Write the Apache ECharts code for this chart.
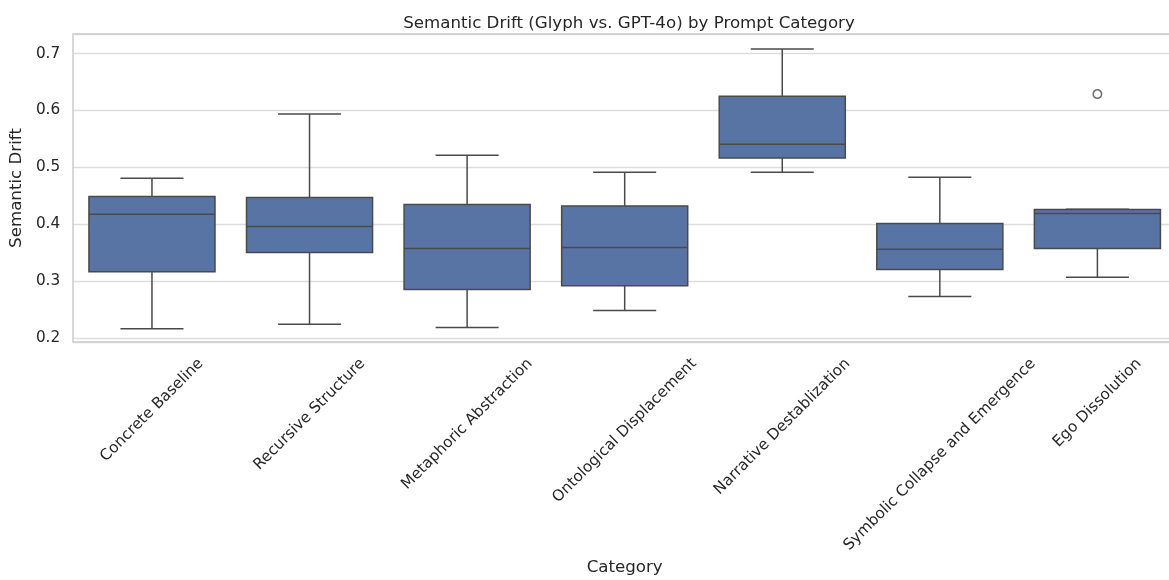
<!DOCTYPE html>
<html>
<head>
<meta charset="utf-8">
<script src="https://cdn.jsdelivr.net/npm/echarts@6/dist/echarts.min.js"></script>
<style>
html,body{margin:0;padding:0;background:#fff;}
#c{width:1169px;height:580px;}
</style>
</head>
<body>
<div id="c"></div>
<script>
// ---- data ----
const categories = ["Concrete Baseline","Recursive Structure","Metaphoric Abstraction","Ontological Displacement","Narrative Destablization","Symbolic Collapse and Emergence","Ego Dissolution"];
const whiskerLow = [0.2165, 0.2241, 0.2183, 0.2482, 0.4914, 0.2728, 0.3067];
const q1Values   = [0.3167, 0.3502, 0.2851, 0.2921, 0.5165, 0.3203, 0.3572];
const medians    = [0.4175, 0.3959, 0.3572, 0.3590, 0.5406, 0.3560, 0.4187];
const q3Values   = [0.4486, 0.4469, 0.4346, 0.4321, 0.6250, 0.4012, 0.4258];
const whiskerHigh= [0.4808, 0.5939, 0.5213, 0.4914, 0.7082, 0.4826, 0.4263];
const outlierCats = ["Ego Dissolution"];
const outlierVals = [0.6288];
const yTicks = [0.2, 0.3, 0.4, 0.5, 0.6, 0.7];

const FONT = '"DejaVu Sans", "Liberation Sans", sans-serif';
const TEXT = '#262626';
const LINE = '#4a4a4a';
const FILL = '#5874a4';
const SPINE = '#cccccc';
const FS_TICK = 15.28;
const FS_LABEL = 16.67;

const boxData = categories.map((c, i) => [i, whiskerLow[i], q1Values[i], medians[i], q3Values[i], whiskerHigh[i]]);
const outlierData = outlierCats.map((c, i) => [categories.indexOf(c), outlierVals[i]]);

// the reference figure is cropped on the right: the axes run a little past the picture edge
const X_MIN = -0.5, X_MAX = categories.length - 0.5 - 0.0456;

const chart = echarts.init(document.getElementById('c'), null, {renderer: 'canvas'});

function renderBox(params, api) {
  const idx = api.value(0);
  const vmin = api.value(1), vq1 = api.value(2), vmed = api.value(3), vq3 = api.value(4), vmax = api.value(5);
  const band = api.size([1, 0])[0];
  const bw = band * 0.8;
  const cap = bw / 2;
  const pMin = api.coord([idx, vmin]);
  const pQ1 = api.coord([idx, vq1]);
  const pMed = api.coord([idx, vmed]);
  const pQ3 = api.coord([idx, vq3]);
  const pMax = api.coord([idx, vmax]);
  const cx = pMed[0];
  const ls = {stroke: LINE, lineWidth: 1.5};
  return {
    type: 'group',
    children: [
      {type: 'line', shape: {x1: cx, y1: pQ3[1], x2: cx, y2: pMax[1]}, style: ls},
      {type: 'line', shape: {x1: cx, y1: pQ1[1], x2: cx, y2: pMin[1]}, style: ls},
      {type: 'line', shape: {x1: cx - cap/2, y1: pMax[1], x2: cx + cap/2, y2: pMax[1]}, style: ls},
      {type: 'line', shape: {x1: cx - cap/2, y1: pMin[1], x2: cx + cap/2, y2: pMin[1]}, style: ls},
      {type: 'rect', shape: {x: cx - bw/2, y: pQ3[1], width: bw, height: pQ1[1] - pQ3[1]}, style: {fill: FILL, stroke: LINE, lineWidth: 1.5}},
      {type: 'line', shape: {x1: cx - bw/2, y1: pMed[1], x2: cx + bw/2, y2: pMed[1]}, style: ls}
    ]
  };
}

const option = {
  backgroundColor: '#ffffff',
  animation: false,
  title: {
    text: 'Semantic Drift (Glyph vs. GPT-4o) by Prompt Category',
    left: 624, top: 10, textAlign: 'center',
    textStyle: {fontFamily: FONT, fontSize: FS_LABEL, fontWeight: 'normal', color: TEXT}
  },
  grid: {left: 71.6, right: 0, top: 34, bottom: 238, show: false, containLabel: false},
  xAxis: [
    {
      type: 'value', min: X_MIN, max: X_MAX, position: 'bottom',
      axisLine: {show: true, onZero: false, lineStyle: {color: SPINE, width: 1.5}},
      axisTick: {show: false}, axisLabel: {show: false}, splitLine: {show: false}
    },
    {
      type: 'value', min: X_MIN, max: X_MAX, position: 'top',
      axisLine: {show: true, onZero: false, lineStyle: {color: SPINE, width: 1.5}},
      axisTick: {show: false}, axisLabel: {show: false}, splitLine: {show: false}
    }
  ],
  yAxis: {
    type: 'value', min: 0.193, max: 0.7345,
    name: 'Semantic Drift', nameLocation: 'middle', nameGap: 46,
    nameTextStyle: {fontFamily: FONT, fontSize: FS_LABEL, color: TEXT},
    axisLine: {show: true, onZero: false, lineStyle: {color: SPINE, width: 1.5}}, axisTick: {show: false},
    axisLabel: {
      margin: 13, fontFamily: FONT, fontSize: FS_TICK, color: TEXT,
      formatter: function (v) {
        for (const t of yTicks) { if (Math.abs(v - t) < 1e-6) return t.toFixed(1); }
        return '';
      }
    },
    splitLine: {show: true, lineStyle: {color: '#dddddd', width: 1.3}}
  },
  series: [
    {type: 'custom', renderItem: renderBox, data: boxData, encode: {x: 0, y: [1, 2, 3, 4, 5]}, z: 3},
    {type: 'scatter', data: outlierData, symbol: 'circle', symbolSize: 8.5,
     itemStyle: {color: 'rgba(0,0,0,0)', borderColor: LINE, borderWidth: 1.5}, z: 4}
  ]
};
chart.setOption(option);

// rotated x tick labels, centred under each tick like matplotlib (rotation=45, ha='center')
const cv = document.createElement('canvas').getContext('2d');
cv.font = FS_TICK + 'px ' + FONT;
const labelTop = 355;
const graphics = categories.map(function (c, i) {
  const L = cv.measureText(c).width;
  const H = FS_TICK * 1.164;
  const px = chart.convertToPixel({xAxisIndex: 0}, i);
  const cy = labelTop + 0.7071 * (L + H) / 2;
  return {
    type: 'text', x: px, y: cy, rotation: Math.PI / 4, silent: true,
    style: {text: c, font: FS_TICK + 'px ' + FONT, fill: TEXT, align: 'center', verticalAlign: 'middle', textAlign: 'center', textVerticalAlign: 'middle'}
  };
});
// x axis title centred on the full (uncropped) axes span
const xl = chart.convertToPixel({xAxisIndex: 0}, -0.5);
const xr = chart.convertToPixel({xAxisIndex: 0}, categories.length - 0.5);
graphics.push({
  type: 'text', x: (xl + xr) / 2, y: 568, silent: true,
  style: {text: 'Category', font: FS_LABEL + 'px ' + FONT, fill: TEXT, align: 'center', verticalAlign: 'middle', textAlign: 'center', textVerticalAlign: 'middle'}
});
chart.setOption({graphic: graphics});
</script>
</body>
</html>
